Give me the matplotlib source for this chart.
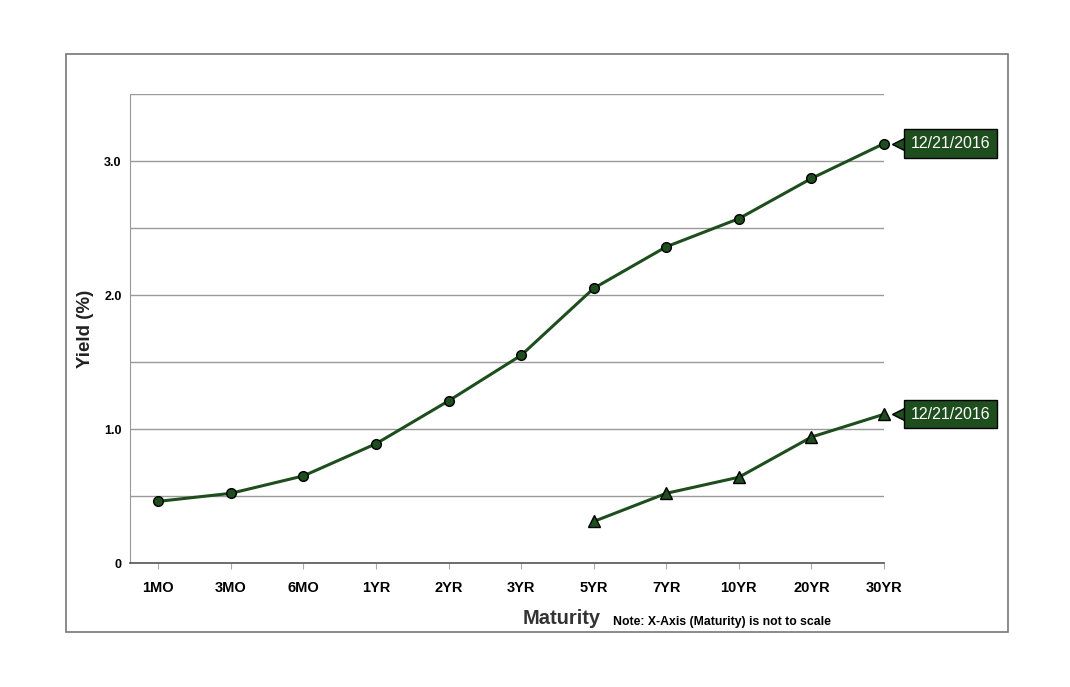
import matplotlib.pyplot as plt
from matplotlib.patches import Rectangle
from matplotlib.transforms import offset_copy

plt.rcParams['font.family'] = ['Liberation Sans', 'DejaVu Sans']

maturities = ["1MO", "3MO", "6MO", "1YR", "2YR", "3YR", "5YR", "7YR", "10YR", "20YR", "30YR"]
nominal = [0.46, 0.52, 0.65, 0.89, 1.21, 1.55, 2.05, 2.36, 2.57, 2.87, 3.13]
real_maturities = ["5YR", "7YR", "10YR", "20YR", "30YR"]
real = [0.31, 0.52, 0.64, 0.94, 1.11]
date_label = "12/21/2016"

green = "#1e4d1e"

fig = plt.figure(figsize=(10.7, 6.87), dpi=100)
# outer frame
fig.patches.append(Rectangle((66 / 1070, 1 - 632 / 687), 942 / 1070, 578 / 687,
                             transform=fig.transFigure, fill=False,
                             edgecolor="#777777", linewidth=1.2))

ax = fig.add_axes([130 / 1070, 1 - 563 / 687, 754 / 1070, 469 / 687])

x = list(range(len(maturities)))
xr = [maturities.index(m) for m in real_maturities]

ax.plot(x, nominal, color=green, linewidth=2.2, marker="o", markersize=7,
        markerfacecolor=green, markeredgecolor="black", markeredgewidth=1, zorder=3,
        clip_on=False)
ax.plot(xr, real, color=green, linewidth=2.2, marker="^", markersize=8,
        markerfacecolor=green, markeredgecolor="black", markeredgewidth=1, zorder=3,
        clip_on=False)

ax.set_xlim(-0.39, 10)
ax.set_ylim(0, 3.5)
ax.set_yticks([0, 0.5, 1.0, 1.5, 2.0, 2.5, 3.0, 3.5])
ax.set_yticklabels(["0", "", "1.0", "", "2.0", "", "3.0", ""], fontsize=9, fontweight="bold")
ax.set_xticks(x)
ax.set_xticklabels(maturities, fontsize=10.5, fontweight="bold")
ax.tick_params(axis="x", length=4, color="#aaaaaa", pad=9)
ax.tick_params(axis="y", length=0, pad=6)
ax.yaxis.grid(True, color="#999999", linewidth=1)
ax.set_axisbelow(True)

for side in ["top", "right"]:
    ax.spines[side].set_visible(False)
ax.spines["left"].set_color("#999999")
ax.spines["bottom"].set_color("#555555")
ax.spines["bottom"].set_linewidth(1.2)

ax.set_ylabel("Yield (%)", fontsize=13.5, fontweight="bold", labelpad=7, color="#222222")
fig.text(562 / 1070, 1 - 619 / 687, "Maturity", fontsize=14.5, fontweight="bold",
         ha="center", va="center", color="#333333")
fig.text(613 / 1070, 1 - 622 / 687, "Note: X-Axis (Maturity) is not to scale",
         fontsize=8.8, fontweight="bold", ha="left", va="center")

# date tags with a small pointer
pointer_tr = offset_copy(ax.transData, fig=fig, x=10.5, y=0, units="points")
for xs, ys in [(x[-1], nominal[-1]), (xr[-1], real[-1])]:
    ax.plot([xs], [ys], marker="<", markersize=10, color=green, markeredgecolor="black",
            markeredgewidth=1, transform=pointer_tr, clip_on=False, zorder=4)
    ax.annotate(date_label, xy=(xs, ys), xytext=(19.5, 0), textcoords="offset points",
                ha="left", va="center", color="white", fontsize=11.5,
                bbox=dict(boxstyle="square,pad=0.42", fc=green, ec="black", lw=1),
                annotation_clip=False, zorder=5)

fig.savefig("out.png", dpi=100)
